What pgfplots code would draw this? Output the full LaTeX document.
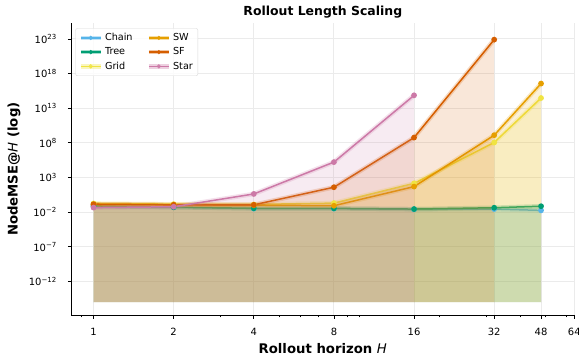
\documentclass[border=0pt]{standalone}
\usepackage{fontspec}
\setmainfont{DejaVu Sans}
\usepackage{pgfplots}
\pgfplotsset{compat=1.18}

% Okabe-Ito palette
\definecolor{cChain}{HTML}{56B4E9}
\definecolor{cTree}{HTML}{009E73}
\definecolor{cGrid}{HTML}{F0E442}
\definecolor{cSW}{HTML}{E69F00}
\definecolor{cSF}{HTML}{D55E00}
\definecolor{cStar}{HTML}{CC79A7}

\pgfplotsset{
  band/.style={draw=none, fill=#1, fill opacity=0.15, forget plot},
  halo/.style={color=#1, line width=4.5bp, opacity=0.22, no marks, forget plot},
  main/.style={color=#1, line width=1.5bp, mark=*, mark size=2.1bp, forget plot},
  legline/.style={color=#1, legend image code/.code={
      \draw[line width=4.5bp, opacity=0.35] (0bp,0bp) -- (20bp,0bp);
      \draw[line width=1.6bp] (0bp,0bp) -- (20bp,0bp);
      \fill (10bp,0bp) circle (1.9bp);}},
}

\begin{document}
\begin{tikzpicture}
\begin{axis}[
  name=ax,
  scale only axis, width=503bp, height=292.3bp,
  xmode=log, log basis x=2, ymode=log,
  xmin=0.825, xmax=64, ymin=1.26e-17, ymax=2e25,
  axis lines*=left,
  axis line style={line width=0.8bp, black},
  tick align=outside,
  major tick length=3.5bp,
  every tick/.style={black, line width=0.8bp},
  xtick={1,2,4,8,16,32,48,64},
  xticklabels={1,2,4,8,16,32,48,64},
  extra x ticks={0.9,3,5,6,7,9,10,20,30,40,50,60},
  extra x tick labels={},
  extra x tick style={grid=none, major tick length=2bp},
  ytick={1e-12,1e-7,1e-2,1e3,1e8,1e13,1e18,1e23},
  yticklabels={10\textsuperscript{−12},10\textsuperscript{−7},10\textsuperscript{−2},10\textsuperscript{3},10\textsuperscript{8},10\textsuperscript{13},10\textsuperscript{18},10\textsuperscript{23}},
  tick label style={font=\fontsize{10}{12}\selectfont},
  xticklabel style={yshift=-6bp},
  yticklabel style={xshift=-7.5bp},
  xmajorgrids, ymajorgrids,
  major grid style={black!8, line width=0.9bp},
  title={\fontsize{12.5}{15}\selectfont\bfseries Rollout Length Scaling},
  title style={at={(axis description cs:0.5,1.017)}, anchor=center},
  xlabel={\fontsize{13.3}{16}\selectfont\textbf{Rollout horizon }\textit{H}},
  xlabel style={at={(axis description cs:0.5,-0.115)}, anchor=center},
  ylabel={\fontsize{13.3}{16}\selectfont\textbf{NodeMSE@}\textit{H}\textbf{ (log)}},
  ylabel style={at={(axis description cs:-0.114,0.5)}, anchor=center},
  legend columns=2,
  legend cell align=left,
  legend style={at={(axis description cs:0.008,0.982)}, anchor=north west,
    draw=black!15, rounded corners=2bp, fill=white, fill opacity=0.8, text opacity=1,
    font=\fontsize{9.7}{11.5}\selectfont, inner sep=3bp, row sep=1.5bp,
    /tikz/every even column/.append style={column sep=12bp}},
]

% Chain
\addplot[band=cChain] coordinates {(1,1e-15) (1,0.0708) (2,0.0501) (4,0.0316) (8,0.0316) (16,0.0251) (32,0.0275) (48,0.0178) (48,1e-15)};
\addplot[halo=cChain] coordinates {(1,0.0708) (2,0.0501) (4,0.0316) (8,0.0316) (16,0.0251) (32,0.0275) (48,0.0178)};
\addplot[main=cChain] coordinates {(1,0.0708) (2,0.0501) (4,0.0316) (8,0.0316) (16,0.0251) (32,0.0275) (48,0.0178)};

% Tree
\addplot[band=cTree] coordinates {(1,1e-15) (1,0.0794) (2,0.0501) (4,0.0355) (8,0.0347) (16,0.0275) (32,0.0427) (48,0.0708) (48,1e-15)};
\addplot[halo=cTree] coordinates {(1,0.0794) (2,0.0501) (4,0.0355) (8,0.0347) (16,0.0275) (32,0.0427) (48,0.0708)};
\addplot[main=cTree] coordinates {(1,0.0794) (2,0.0501) (4,0.0355) (8,0.0347) (16,0.0275) (32,0.0427) (48,0.0708)};

% Grid
\addplot[band=cGrid] coordinates {(1,1e-15) (1,0.178) (2,0.141) (4,0.126) (8,0.200) (16,141) (32,1.12e8) (48,2.95e14) (48,1e-15)};
\addplot[halo=cGrid] coordinates {(1,0.178) (2,0.141) (4,0.126) (8,0.200) (16,141) (32,1.12e8) (48,2.95e14)};
\addplot[main=cGrid] coordinates {(1,0.178) (2,0.141) (4,0.126) (8,0.200) (16,141) (32,1.12e8) (48,2.95e14)};

% SW
\addplot[band=cSW] coordinates {(1,1e-15) (1,0.126) (2,0.112) (4,0.100) (8,0.0832) (16,47.9) (32,1.26e9) (48,3.63e16) (48,1e-15)};
\addplot[halo=cSW] coordinates {(1,0.126) (2,0.112) (4,0.100) (8,0.0832) (16,47.9) (32,1.26e9) (48,3.63e16)};
\addplot[main=cSW] coordinates {(1,0.126) (2,0.112) (4,0.100) (8,0.0832) (16,47.9) (32,1.26e9) (48,3.63e16)};

% SF
\addplot[band=cSF] coordinates {(1,1e-15) (1,0.138) (2,0.112) (4,0.112) (8,38.9) (16,5.75e8) (32,7.94e22) (32,1e-15)};
\addplot[halo=cSF] coordinates {(1,0.138) (2,0.112) (4,0.112) (8,38.9) (16,5.75e8) (32,7.94e22)};
\addplot[main=cSF] coordinates {(1,0.138) (2,0.112) (4,0.112) (8,38.9) (16,5.75e8) (32,7.94e22)};

% Star
\addplot[band=cStar] coordinates {(1,1e-15) (1,0.0447) (2,0.0589) (4,4.17) (8,1.66e5) (16,7.24e14) (16,1e-15)};
\addplot[halo=cStar] coordinates {(1,0.0447) (2,0.0589) (4,4.17) (8,1.66e5) (16,7.24e14)};
\addplot[main=cStar] coordinates {(1,0.0447) (2,0.0589) (4,4.17) (8,1.66e5) (16,7.24e14)};

% legend, filled row by row: Chain | SW, Tree | SF, Grid | Star
\addlegendimage{legline=cChain}\addlegendentry{Chain}
\addlegendimage{legline=cSW}\addlegendentry{SW}
\addlegendimage{legline=cTree}\addlegendentry{Tree}
\addlegendimage{legline=cSF}\addlegendentry{SF}
\addlegendimage{legline=cGrid}\addlegendentry{Grid}
\addlegendimage{legline=cStar}\addlegendentry{Star}
\end{axis}
\pgfresetboundingbox
\path[use as bounding box] ([shift={(-71.3bp,-44.7bp)}]ax.south west) rectangle ([shift={(4.7bp,23bp)}]ax.north east);
\end{tikzpicture}
\end{document}
